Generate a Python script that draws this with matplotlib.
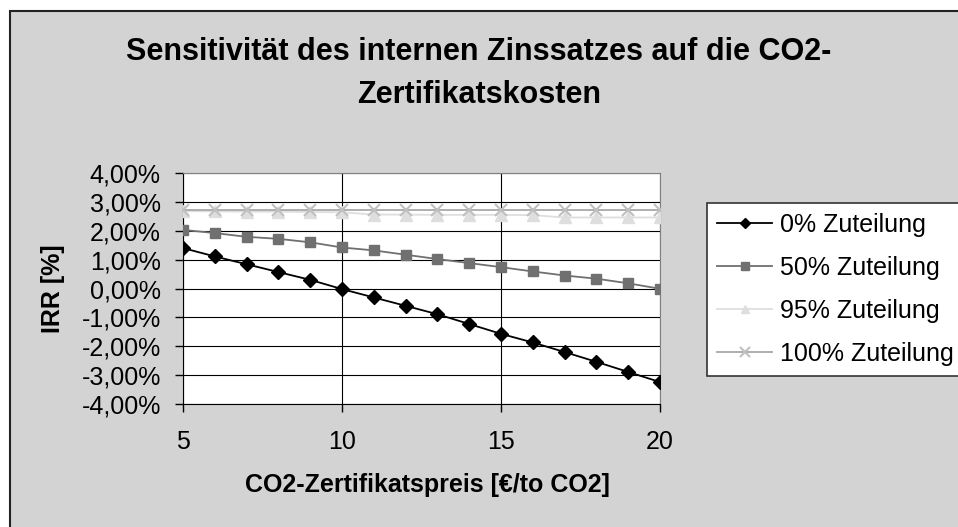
import matplotlib
matplotlib.use("Agg")
from matplotlib import pyplot as plt
from matplotlib.patches import Rectangle
from matplotlib.ticker import FuncFormatter

plt.rcParams['font.family'] = ['Liberation Sans', 'DejaVu Sans']

preis = [5, 6, 7, 8, 9, 10, 11, 12, 13, 14, 15, 16, 17, 18, 19, 20]
irr_0 = [1.40, 1.11, 0.84, 0.57, 0.30, -0.02, -0.31, -0.60, -0.89, -1.23,
         -1.57, -1.87, -2.20, -2.54, -2.89, -3.24]
irr_50 = [2.03, 1.92, 1.79, 1.72, 1.60, 1.42, 1.32, 1.17, 1.02, 0.88,
          0.74, 0.59, 0.45, 0.34, 0.18, -0.01]
irr_95 = [2.68, 2.67, 2.66, 2.66, 2.65, 2.64, 2.56, 2.56, 2.55, 2.55,
          2.55, 2.54, 2.46, 2.46, 2.46, 2.46]
irr_100 = [2.73] * 16

labels = ["0% Zuteilung", "50% Zuteilung", "95% Zuteilung", "100% Zuteilung"]

fig = plt.figure(figsize=(9.58, 5.27), dpi=100)
fig.patch.set_facecolor('white')
fig.patches.append(Rectangle((10 / 958, -0.01), 1.0, 1 - 11 / 527 + 0.01,
                             transform=fig.transFigure, facecolor='#d3d3d3',
                             edgecolor='#222222', linewidth=1.5, zorder=-10))

ax = fig.add_axes([183 / 958, 1 - 404 / 527, (660 - 183) / 958, (404 - 173) / 527])
ax.set_facecolor('white')

l0, = ax.plot(preis, irr_0, color='black', lw=1.3, marker='D', ms=7, zorder=5)
l50, = ax.plot(preis, irr_50, color='#707070', lw=1.3, marker='s', ms=7,
               mfc='#707070', mec='#707070', zorder=4)
l95, = ax.plot(preis, irr_95, color='#dedede', lw=1.3, marker='^', ms=8,
               mfc='#dedede', mec='#dedede', zorder=3)
l100, = ax.plot(preis, irr_100, color='#a8a8a8', lw=1.3, marker='x', ms=9,
                mew=1.5, mec='#c0c0c0', zorder=3)

ax.set_xlim(5, 20)
ax.set_ylim(-4, 4)
ax.set_xticks([5, 10, 15, 20])
ax.set_yticks(range(-4, 5))
ax.yaxis.set_major_formatter(FuncFormatter(lambda v, p: f"{v:.2f}%".replace('.', ',')))
ax.grid(True, color='black', lw=0.8)
ax.set_axisbelow(True)
for s in ax.spines.values():
    s.set_color('#808080')
ax.spines['left'].set_color('black')
ax.spines['bottom'].set_color('black')
ax.tick_params(labelsize=18, length=6, width=1)
ax.tick_params(axis='y', pad=10)
ax.tick_params(axis='x', pad=13)

ax.set_xlabel("CO2-Zertifikatspreis [€/to CO2]", fontsize=18, fontweight='bold', va='center')
ax.xaxis.set_label_coords((427 - 183) / 477, -(485 - 404) / 231)
ax.set_ylabel("IRR [%]", fontsize=18, fontweight='bold', va='center')
ax.yaxis.set_label_coords((53 - 183) / 477, 0.5)

fig.text(0.5, 1 - 52 / 527, "Sensitivität des internen Zinssatzes auf die CO2-",
         ha='center', va='center', fontsize=22, fontweight='bold')
fig.text(0.5, 1 - 95 / 527, "Zertifikatskosten",
         ha='center', va='center', fontsize=22, fontweight='bold')

leg = fig.legend([l0, l50, l95, l100], labels, loc='upper left',
                 bbox_to_anchor=(707 / 958, 1 - 203 / 527), fontsize=18,
                 frameon=True, fancybox=False, borderaxespad=0, framealpha=1,
                 handlelength=2.2, handletextpad=0.3, labelspacing=0.76,
                 borderpad=0.4, markerscale=0.8)
leg.get_frame().set_edgecolor('#333333')
leg.get_frame().set_facecolor('white')
leg.get_frame().set_linewidth(1.2)

fig.savefig("out.png", dpi=100)
